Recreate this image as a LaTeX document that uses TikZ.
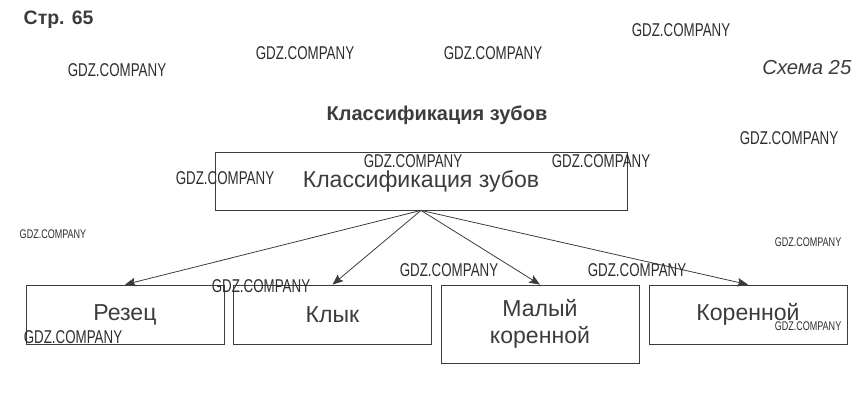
\documentclass[tikz,border=0pt]{standalone}
\usepackage{fontspec}
\setmainfont{Liberation Sans}
\newfontfamily\wmfont[FakeStretch=0.72]{Liberation Sans}
\usetikzlibrary{arrows.meta}

\definecolor{inkgray}{RGB}{60,60,60}
\definecolor{wmgray}{RGB}{45,45,45}

\tikzset{
	kindbox/.style={draw=inkgray, line width=0.6pt, minimum width=148.5pt, minimum height=44.25pt, inner sep=0pt, align=center, text=inkgray, font=\fontsize{17.3}{20.5}\selectfont},
	toothlink/.style={draw=inkgray, line width=0.6pt, -{Stealth[length=8pt, width=6.5pt, inset=1.5pt]}},
	wmbig/.style={text=wmgray, font=\wmfont\fontsize{13.9}{14}\selectfont, inner sep=0pt},
	wmsmall/.style={text=wmgray, font=\wmfont\fontsize{9.4}{10}\selectfont, inner sep=0pt}
}

\begin{document}
\begin{tikzpicture}[x=0.75pt, y=-0.75pt]
		\useasboundingbox (0,0) rectangle (864,409);
		
		% Page header
		\node[anchor=west, text=inkgray, font=\bfseries\fontsize{14.6}{17}\selectfont] (page) at (19,20) {Стр. 65};
		\node[anchor=east, text=inkgray, font=\itshape\fontsize{15.2}{18}\selectfont] (scheme) at (856,68) {Схема 25};
		\node[text=inkgray, font=\bfseries\fontsize{15}{18}\selectfont] (title) at (437,115) {Классификация зубов};
		
		% Root box
		\node[kindbox, minimum width=309pt, minimum height=43.5pt] (root) at (421,181) {Классификация зубов};
		
		% Kinds of teeth
		\node[kindbox] (incisor) at (125,314.5) {Резец};
		\node[kindbox] (canine) at (332.5,314.5) {Клык};
		\node[kindbox, minimum height=58.5pt] (premolar) at (540,324) {Малый\\коренной};
		\node[kindbox] (molar) at (748,314.5) {Коренной};
		
		% Links
		\foreach \kind in {incisor, canine, premolar, molar}
			\draw[toothlink] (root.south) -- (\kind.north);
		
		% Watermarks
		\foreach \wx/\wy [count=\i] in {117/70, 305/53, 493/53, 681/30, 789/138, 225/178, 413/161, 601/161, 261/286, 449/270, 637/270, 73/337}
			\node[wmbig] (wm\i) at (\wx,\wy) {GDZ.COMPANY};
		\foreach \wx/\wy [count=\i] in {53/234, 808/242, 808/326}
			\node[wmsmall] (wms\i) at (\wx,\wy) {GDZ.COMPANY};
	\end{tikzpicture}
\end{document}
